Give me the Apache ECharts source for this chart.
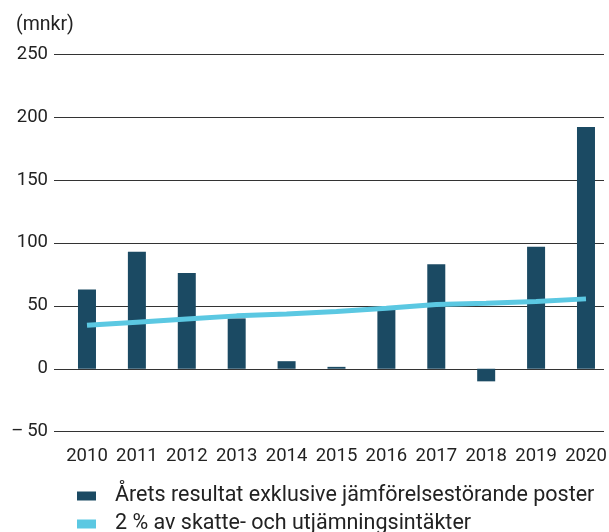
<!DOCTYPE html>
<html><head><meta charset="utf-8">
<script src="https://cdn.jsdelivr.net/npm/echarts@6/dist/echarts.min.js"></script>
<style>html,body{margin:0;padding:0;background:#fff}#c{width:609px;height:532px}</style>
</head><body><div id="c"></div>
<script>
const years = ['2010','2011','2012','2013','2014','2015','2016','2017','2018','2019','2020'];
const resultat = [63, 93, 76, 40, 6, 1.5, 47, 83, -10, 97, 192];
const tvaProcent = [34.5, 37, 39.5, 42, 43.5, 45.5, 48, 51, 52, 53.5, 55.5];
const yTicks = [-50, 0, 50, 100, 150, 200, 250];
const unitLabel = '(mnkr)';
const seriesNames = ['Årets resultat exklusive jämförelsestörande poster', '2 % av skatte- och utjämningsintäkter'];

const idx = years.map((y, i) => i);
const chart = echarts.init(document.getElementById('c'), null, {renderer: 'canvas'});
const font = 'Roboto, "DejaVu Sans", sans-serif';
const legendText = {fontFamily: font, fontSize: 21.5, color: '#222', padding: [0, 0, 0, 14]};
chart.setOption({
  animation: false,
  backgroundColor: '#fff',
  title: {text: unitLabel, left: 11, top: 10, textStyle: {fontFamily: font, fontSize: 19.5, fontWeight: 'normal', color: '#222'}},
  grid: {left: 54, right: 5, top: 54, bottom: 100.3, containLabel: false, outerBoundsMode: 'none'},
  legend: [
    {left: 72, top: 480, itemWidth: 19, itemHeight: 9, icon: 'rect', textStyle: legendText,
     data: [{name: seriesNames[0], itemStyle: {color: '#1b4a63'}}]},
    {left: 72, top: 508, itemWidth: 19, itemHeight: 9, icon: 'rect', textStyle: legendText,
     data: [{name: seriesNames[1], itemStyle: {color: '#5bc8e2'}}]}
  ],
  xAxis: {
    type: 'value', min: -0.661, max: 10.361,
    axisLine: {show: false}, axisTick: {show: false}, splitLine: {show: false},
    axisLabel: {customValues: idx, formatter: v => years[Math.round(v)], fontFamily: font, fontSize: 18.5, color: '#222', margin: 15}
  },
  yAxis: {
    type: 'value', min: yTicks[0], max: yTicks[yTicks.length - 1], interval: 50,
    axisLine: {show: false}, axisTick: {show: false},
    splitLine: {lineStyle: {color: '#333', width: 1}},
    axisLabel: {fontFamily: font, fontSize: 18.5, color: '#222', margin: 6,
      formatter: v => v < 0 ? '\u2013\u2009' + Math.abs(v) : String(v)}
  },
  series: [
    {name: seriesNames[0], type: 'bar', barWidth: 18, itemStyle: {color: '#1b4a63'},
     data: resultat.map((v, i) => [i, v]), z: 2},
    {name: seriesNames[1], type: 'line', symbol: 'none', lineStyle: {color: '#5bc8e2', width: 5},
     itemStyle: {color: '#5bc8e2'}, data: tvaProcent.map((v, i) => [i, v]), z: 3}
  ]
});
</script></body></html>
